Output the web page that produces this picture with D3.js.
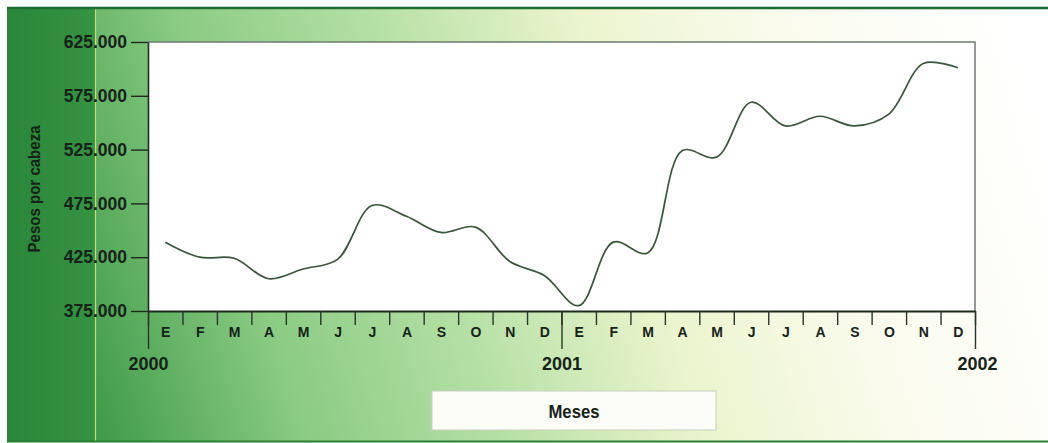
<!DOCTYPE html>
<html>
<head>
  <meta charset="utf-8">
  <title>Pesos por cabeza</title>
  <script src="https://cdn.jsdelivr.net/npm/d3@7"></script>
  <style>
    body { margin: 0; background: #fff; }
    svg { display: block; }
  </style>
</head>
<body>
  <div id="container"></div>
  <script>
    // valores mensuales, ene 2000 .. dic 2001 (pesos por cabeza)
    var monthLabels = ['E','F','M','A','M','J','J','A','S','O','N','D',
                       'E','F','M','A','M','J','J','A','S','O','N','D'];
    var yearLabels = ['2000', '2001', '2002'];
    var pesosPorCabeza = [
      439000, 425000, 424000, 405000, 414000, 423000, 473000, 463000, 448000, 453000, 421000, 408000,
      380000, 439000, 429000, 524000, 518000, 569000, 547000, 556000, 547000, 558000, 605000, 601000
    ];
    var yTicks = [375000, 425000, 475000, 525000, 575000, 625000];

    var W = 1048, H = 443;
    var plot = {left: 148, right: 975, top: 42, bottom: 311};
    var fontStack = '"Liberation Sans", Arial, sans-serif';
    var ink = '#16221a';

    var fmt = d3.formatLocale({decimal: ',', thousands: '.', grouping: [3], currency: ['$', '']}).format(',d');

    // estrecha un texto para imitar la tipografia condensada
    function condense(sel, k) {
      sel.each(function () {
        var w = this.getComputedTextLength();
        d3.select(this).attr('textLength', w * k).attr('lengthAdjust', 'spacingAndGlyphs');
      });
    }

    var svg = d3.select('#container').append('svg')
      .attr('width', W).attr('height', H);

    var defs = svg.append('defs');
    var bg = defs.append('linearGradient').attr('id', 'bg')
      .attr('gradientUnits', 'userSpaceOnUse')
      .attr('x1', 95).attr('y1', 440).attr('x2', 1048).attr('y2', 150);
    [[0, '#3e9a48'], [0.2, '#8acb83'], [0.39, '#b5e0a5'], [0.58, '#eaf4cc'],
     [0.77, '#fafbec'], [1, '#ffffff']].forEach(function (s) {
      bg.append('stop').attr('offset', s[0]).attr('stop-color', s[1]);
    });
    var strip = defs.append('linearGradient').attr('id', 'strip')
      .attr('x1', 0).attr('y1', 0).attr('x2', 1).attr('y2', 0);
    strip.append('stop').attr('offset', 0).attr('stop-color', '#2a873a');
    strip.append('stop').attr('offset', 1).attr('stop-color', '#359342');

    // fondo
    svg.append('rect').attr('x', 7).attr('y', 8).attr('width', W - 7).attr('height', 433)
      .attr('fill', 'url(#bg)');
    svg.append('rect').attr('x', 7).attr('y', 8).attr('width', 88).attr('height', 433)
      .attr('fill', 'url(#strip)');
    svg.append('line').attr('x1', 95.5).attr('x2', 95.5).attr('y1', 9).attr('y2', 441)
      .attr('stroke', '#c9d873').attr('stroke-width', 1.2);
    svg.append('line').attr('x1', 7).attr('x2', W).attr('y1', 8).attr('y2', 8)
      .attr('stroke', '#1f6e2c').attr('stroke-width', 2.5);
    svg.append('line').attr('x1', 7).attr('x2', W).attr('y1', 441.5).attr('y2', 441.5)
      .attr('stroke', '#2a7e35').attr('stroke-width', 2);

    var x = d3.scaleLinear().domain([0, 24]).range([plot.left, plot.right]);
    var y = d3.scaleLinear().domain([375000, 625000]).range([plot.bottom, plot.top]);

    // area blanca del grafico
    svg.append('rect')
      .attr('x', x(0)).attr('y', y(625000))
      .attr('width', x(24) - x(0)).attr('height', y(375000) - y(625000))
      .attr('fill', '#ffffff');
    svg.append('path')
      .attr('d', `M${x(0)},${y(625000)}H${x(24)}V${y(375000)}`)
      .attr('fill', 'none').attr('stroke', '#6f7a70').attr('stroke-width', 1.5);

    // eje y
    var yAxis = svg.append('g').attr('transform', `translate(${x(0)},0)`)
      .call(d3.axisLeft(y).tickValues(yTicks).tickFormat(fmt).tickSize(17).tickSizeOuter(0).tickPadding(4));
    yAxis.select('.domain').attr('stroke', '#1e2a1e').attr('stroke-width', 1.6);
    yAxis.selectAll('.tick line').attr('stroke', '#1e2a1e').attr('stroke-width', 1.4);
    yAxis.selectAll('.tick text')
      .attr('fill', ink).style('font-family', fontStack)
      .style('font-size', '17.5px').style('font-weight', 'bold');

    // eje x: marcas de mes
    var xAxis = svg.append('g').attr('transform', `translate(0,${y(375000)})`)
      .call(d3.axisBottom(x).tickValues(d3.range(0, 25)).tickFormat('').tickSize(14).tickSizeOuter(0));
    xAxis.select('.domain').attr('stroke', '#1e2a1e').attr('stroke-width', 1.8);
    xAxis.selectAll('.tick line').attr('stroke', '#2a352a').attr('stroke-width', 1.4);

    // marcas de año
    var yearAxis = svg.append('g').attr('transform', `translate(0,${y(375000)})`)
      .call(d3.axisBottom(x).tickValues([0, 12, 24]).tickFormat(function (d, i) { return yearLabels[i]; })
        .tickSize(38).tickSizeOuter(0).tickPadding(8));
    yearAxis.select('.domain').remove();
    yearAxis.selectAll('.tick line').attr('stroke', '#2a352a').attr('stroke-width', 1.4);
    yearAxis.selectAll('.tick text')
      .attr('fill', ink).style('font-family', fontStack)
      .style('font-size', '18px').style('font-weight', 'bold');
    yearAxis.selectAll('.tick').filter(function (d) { return d === 24; }).select('text').attr('dx', 2);

    // letras de mes
    var monthAxis = svg.append('g').attr('transform', `translate(0,${y(375000)})`)
      .call(d3.axisBottom(x).tickValues(d3.range(24).map(function (i) { return i + 0.5; }))
        .tickFormat(function (d, i) { return monthLabels[i]; }).tickSize(0).tickPadding(16));
    monthAxis.select('.domain').remove();
    monthAxis.selectAll('.tick text')
      .attr('fill', ink).style('font-family', fontStack)
      .style('font-size', '14px').style('font-weight', 'bold');

    // serie
    var line = d3.line()
      .x(function (d, i) { return x(i + 0.5); })
      .y(function (d) { return y(d); })
      .curve(d3.curveCatmullRom.alpha(0.5));
    svg.append('path').datum(pesosPorCabeza)
      .attr('d', line)
      .attr('fill', 'none').attr('stroke', '#38563a').attr('stroke-width', 1.7);

    // titulo eje y
    svg.append('text')
      .attr('transform', `translate(40,189) rotate(-90)`)
      .attr('text-anchor', 'middle')
      .attr('fill', ink).style('font-family', fontStack)
      .style('font-size', '16px').style('font-weight', 'bold')
      .text('Pesos por cabeza')
      .call(condense, 0.94);

    // caja "Meses"
    svg.append('rect').attr('x', 432).attr('y', 391).attr('width', 284).attr('height', 39)
      .attr('fill', '#fbfdf6').attr('stroke', '#c8cfc0').attr('stroke-width', 1);
    svg.append('text')
      .attr('x', 574).attr('y', 418)
      .attr('text-anchor', 'middle')
      .attr('fill', ink).style('font-family', fontStack)
      .style('font-size', '18px').style('font-weight', 'bold')
      .text('Meses')
      .call(condense, 0.93);
  </script>
</body>
</html>
